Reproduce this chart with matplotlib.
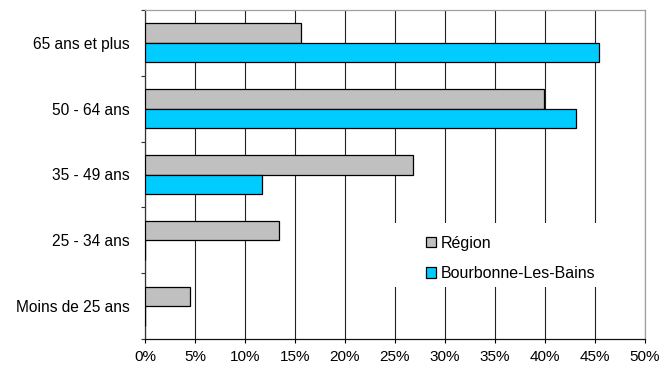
import matplotlib
matplotlib.use("Agg")
import matplotlib.pyplot as plt
from matplotlib.ticker import FixedLocator, PercentFormatter
from matplotlib.patches import Patch, Rectangle
import numpy as np

plt.rcParams['font.family'] = ['Liberation Sans', 'DejaVu Sans']

categories = ["Moins de 25 ans", "25 - 34 ans", "35 - 49 ans", "50 - 64 ans", "65 ans et plus"]
region = [4.5, 13.4, 26.8, 39.9, 15.6]
bourbonne = [0.0, 0.0, 11.7, 43.1, 45.4]
series_names = ["Région", "Bourbonne-Les-Bains"]
x_ticks = [0, 5, 10, 15, 20, 25, 30, 35, 40, 45, 50]

gray = "#C0C0C0"
cyan = "#00CCFF"

fig = plt.figure(figsize=(6.69, 3.65), dpi=100)
ax = fig.add_axes([145/669, 1 - 339/365, 500/669, 329/365])

y = np.arange(len(categories))
h = 0.295
ax.barh(y + h/2, region, height=h, color=gray, edgecolor="black", linewidth=0.9, zorder=3)
ax.barh(y - h/2, bourbonne, height=h, color=cyan, edgecolor="black", linewidth=0.9, zorder=3)

ax.set_xlim(0, 50)
ax.set_ylim(-0.5, len(categories) - 0.5)

ax.xaxis.set_major_locator(FixedLocator(x_ticks))
ax.xaxis.set_major_formatter(PercentFormatter(decimals=0))
ax.grid(axis="x", color="#222222", linewidth=0.8, zorder=1)

ax.set_yticks(y)
ax.set_yticklabels(categories)
ax.set_yticks(np.arange(-0.5, len(categories)), minor=True)
ax.tick_params(axis="y", which="major", length=0, pad=11, labelsize=11.2)
ax.tick_params(axis="y", which="minor", length=3, width=0.8, color="#333333", direction="out")
ax.tick_params(axis="x", length=3, width=0.8, direction="out", pad=5, labelsize=11)

ax.spines["top"].set_color("#A0A0A0")
ax.spines["right"].set_color("#A0A0A0")
ax.spines["left"].set_color("#333333")
ax.spines["bottom"].set_color("#111111")
for s in ax.spines.values():
    s.set_linewidth(0.9)

# white backdrop of the legend hides the grid behind it
ax.add_patch(Rectangle((0.48, 0.157), 0.45, 0.195, transform=ax.transAxes,
                       facecolor="white", edgecolor="none", zorder=2))

handles = [Patch(facecolor=gray, edgecolor="black", linewidth=0.9),
           Patch(facecolor=cyan, edgecolor="black", linewidth=0.9)]
leg = ax.legend(handles, series_names, loc="center left",
                bbox_to_anchor=(0.562, 0.245), frameon=False, fontsize=11.5,
                handlelength=0.6, handleheight=0.6, handletextpad=0.35,
                labelspacing=0.96, borderpad=0, borderaxespad=0)
leg.set_zorder(5)

fig.savefig("out.png", dpi=100)
